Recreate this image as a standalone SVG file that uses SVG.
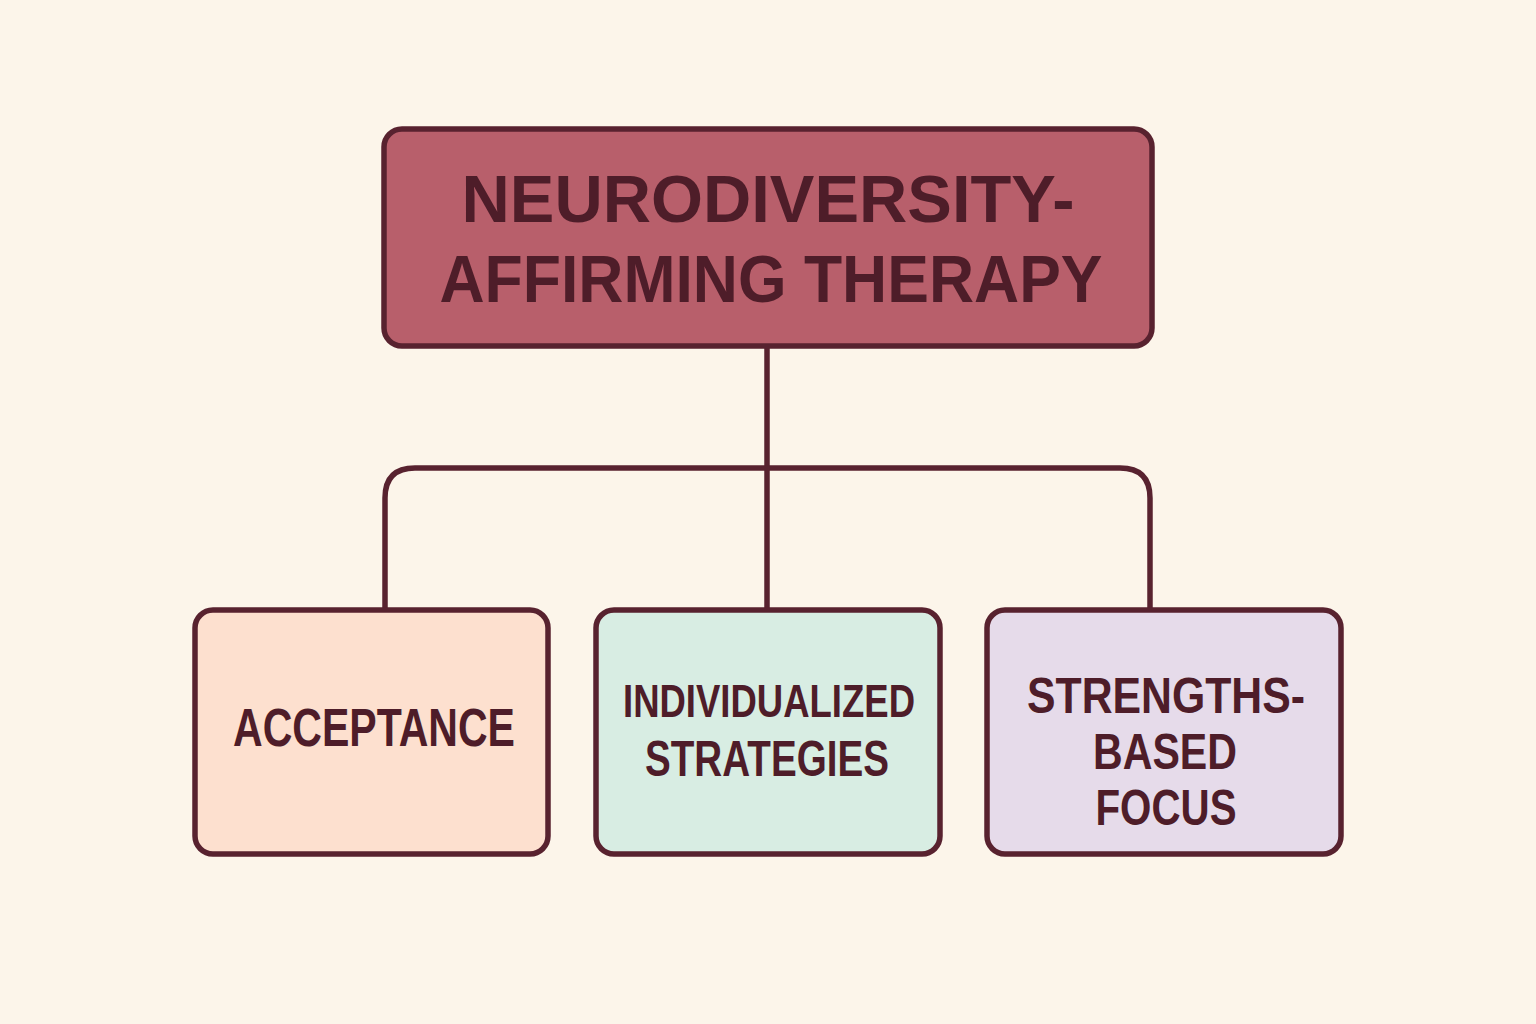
<svg xmlns="http://www.w3.org/2000/svg" width="1536" height="1024" viewBox="0 0 1536 1024">
<style>
.box{stroke:#58222f;stroke-width:5.5}
.con{fill:none;stroke:#58222f;stroke-width:5.5}
.t{font-family:"Liberation Sans",Arial,sans-serif;font-weight:bold;fill:#4e1d29;text-anchor:middle}
</style>
<rect width="1536" height="1024" fill="#fcf5ea"/>
<g id="connectors">
<path class="con" d="M767 347 V608"/>
<path class="con" d="M385 608 V498 Q385 468 415 468 H1120 Q1150 468 1150 498 V608"/>
</g>
<g id="root">
<rect class="box" x="384" y="129" width="768" height="217" rx="18" fill="#b85f6b"/>
<text class="t" x="768" y="222" font-size="66" textLength="613" lengthAdjust="spacingAndGlyphs">NEURODIVERSITY-</text>
<text class="t" x="771" y="302" font-size="66" textLength="663" lengthAdjust="spacingAndGlyphs">AFFIRMING THERAPY</text>
</g>
<g id="acceptance">
<rect class="box" x="195" y="610" width="353" height="244" rx="18" fill="#fde0cf"/>
<text class="t" x="374" y="746" font-size="54" textLength="282" lengthAdjust="spacingAndGlyphs">ACCEPTANCE</text>
</g>
<g id="individualized">
<rect class="box" x="596" y="610" width="344" height="244" rx="18" fill="#d8ede3"/>
<text class="t" x="769" y="717" font-size="47" textLength="292" lengthAdjust="spacingAndGlyphs">INDIVIDUALIZED</text>
<text class="t" x="767" y="776" font-size="50" textLength="244" lengthAdjust="spacingAndGlyphs">STRATEGIES</text>
</g>
<g id="strengths">
<rect class="box" x="987" y="610" width="354" height="244" rx="18" fill="#e6dbea"/>
<text class="t" x="1166" y="713" font-size="50" textLength="278" lengthAdjust="spacingAndGlyphs">STRENGTHS-</text>
<text class="t" x="1165" y="769" font-size="50" textLength="144" lengthAdjust="spacingAndGlyphs">BASED</text>
<text class="t" x="1166" y="825" font-size="50" textLength="141" lengthAdjust="spacingAndGlyphs">FOCUS</text>
</g>
</svg>
